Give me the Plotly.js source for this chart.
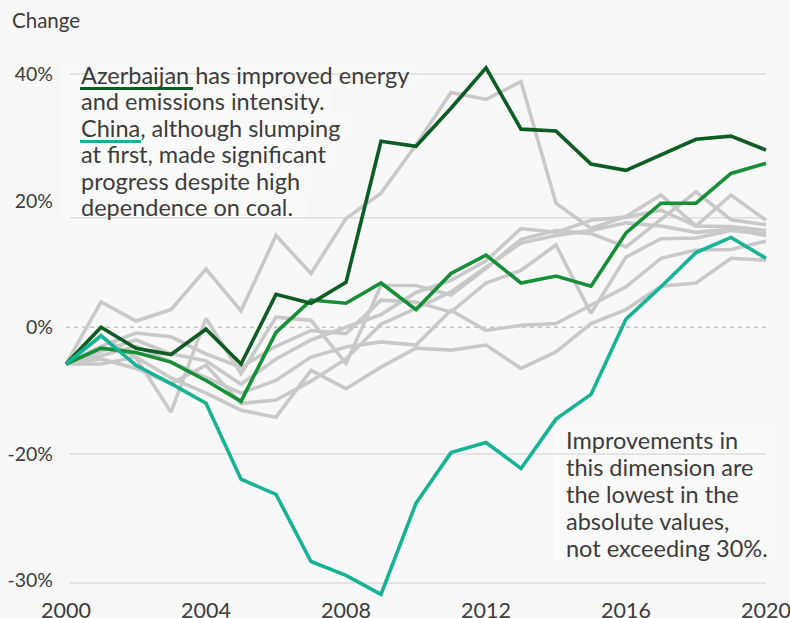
<!DOCTYPE html>
<html><head><meta charset="utf-8">
<script src="https://cdn.plot.ly/plotly-3.0.1.min.js"></script>
<style>html,body{margin:0;padding:0;background:#f8f8f8}</style>
</head><body><div id="chart" style="width:790px;height:618px"></div>
<script>
// ---- data ----
const years = [2000,2001,2002,2003,2004,2005,2006,2007,2008,2009,2010,2011,2012,2013,2014,2015,2016,2017,2018,2019,2020];
const azerbaijan = [-5.8, 0.0, -3.3, -4.3, -0.3, -5.8, 5.2, 3.8, 7.1, 29.4, 28.6, 34.6, 41.0, 31.3, 31.0, 25.8, 24.8, 27.3, 29.7, 30.2, 28.0];
const greenCountry = [-5.8, -3.3, -4.0, -5.5, -8.4, -11.7, -0.8, 4.3, 3.8, 7.0, 2.8, 8.5, 11.4, 7.0, 8.1, 6.5, 14.9, 19.6, 19.6, 24.3, 25.9];
const china = [-5.8, -1.3, -6.0, -8.9, -12.0, -24.0, -26.4, -37.0, -39.2, -42.2, -27.8, -19.8, -18.2, -22.3, -14.5, -10.6, 1.3, 6.4, 11.8, 14.2, 10.9];
const grey1 = [-5.8, 4.0, 1.0, 2.8, 9.2, 2.6, 14.5, 8.5, 17.2, 21.2, 28.8, 37.1, 36.0, 38.8, 19.6, 15.6, 17.5, 20.9, 16.0, 20.9, 16.9];
const grey2 = [-5.8, -1.5, -4.8, -13.4, 1.4, -7.3, 1.6, 1.1, -5.7, 6.6, 6.6, 5.1, 9.3, 13.9, 15.3, 14.8, 12.7, 17.0, 21.4, 17.0, 16.2];
const grey3 = [-5.8, -3.0, -0.9, -1.5, -4.2, -6.3, -3.0, -0.5, -1.0, 4.3, 4.0, 2.4, 7.0, 9.0, 13.0, 2.2, 11.1, 14.0, 14.1, 15.3, 14.8];
const grey4 = [-5.8, -3.8, -2.0, -4.2, -5.3, -9.0, -5.0, -2.0, 0.0, 2.0, 5.5, 7.4, 10.5, 15.6, 15.0, 16.9, 17.4, 18.5, 16.0, 15.9, 15.3];
const grey5 = [-5.8, -4.5, -3.0, -5.5, -8.0, -10.4, -8.4, -4.7, -3.1, -2.3, -2.8, 2.7, -0.5, 0.3, 0.6, 3.5, 6.4, 10.9, 12.2, 12.3, 13.6];
const grey6 = [-5.8, -5.0, -6.5, -8.9, -6.0, -12.0, -11.5, -8.5, -5.0, 0.5, 3.0, 5.6, 9.5, 13.3, 14.5, 15.3, 16.5, 16.0, 15.0, 15.5, 14.5];
const grey7 = [-5.8, -5.8, -4.7, -8.0, -10.4, -13.1, -14.2, -6.8, -9.7, -6.3, -3.3, -3.6, -2.8, -6.5, -3.9, 0.6, 2.8, 6.5, 7.0, 10.9, 10.6];
const greySeries = [grey1, grey2, grey3, grey4, grey5, grey6, grey7];

const xTickVals = [2000, 2004, 2008, 2012, 2016, 2020];
const xTickText = ['2000', '2004', '2008', '2012', '2016', '2020'];
const yTickVals = [40, 20, 0, -20, -40];
const yTickText = ['40%', '20%', '0%', '-20%', '-30%'];
const yAxisLabel = 'Change';
const noteTop = ['Azerbaijan has improved energy', 'and emissions intensity.', 'China, although slumping', 'at first, made significant', 'progress despite high', 'dependence on coal.'];
const noteBottom = ['Improvements in', 'this dimension are', 'the lowest in the', 'absolute values,', 'not exceeding 30%.'];

// ---- style ----
const FONT = 'Lato, "Open Sans", sans-serif';
const BG = '#f8f8f8';
const BOX = '#fafafa';
const TXT = '#3c3c3c';
const GREY = '#c9c9c9';
const C_AZ = '#0d5c24';
const C_GR = '#178f38';
const C_CN = '#17b394';
const W = 790, H = 618, ML = 60, MR = 15, MT = 40, MB = 18;
const PW = W - ML - MR, PH = H - MT - MB;
const px = x => (x - ML) / PW;
const py = y => 1 - (y - MT) / PH;

const traces = [];
greySeries.forEach(s => traces.push({x: years, y: s, type: 'scatter', mode: 'lines',
  line: {color: GREY, width: 3.6}, hoverinfo: 'skip', showlegend: false}));
traces.push({x: years, y: greenCountry, type: 'scatter', mode: 'lines', line: {color: C_GR, width: 3.6}, showlegend: false});
traces.push({x: years, y: azerbaijan, type: 'scatter', mode: 'lines', line: {color: C_AZ, width: 3.6}, showlegend: false});
traces.push({x: years, y: china, type: 'scatter', mode: 'lines', line: {color: C_CN, width: 3.6}, showlegend: false});

const shapes = [];
// grid lines
[40, 17.3, -20, -40.4].forEach(v => shapes.push({type: 'line', xref: 'x', yref: 'y', x0: 2000.11, x1: 2020, y0: v, y1: v,
  line: {color: '#dcdcdc', width: 1.5}, layer: 'below'}));
shapes.push({type: 'line', xref: 'x', yref: 'y', x0: 2000, x1: 2020, y0: 0, y1: 0,
  line: {color: '#c4c4c4', width: 1.5, dash: '4px,4px'}, layer: 'below'});
// note backgrounds
const topRight = [418, 332, 350, 338, 312, 307];
topRight.forEach((r, i) => shapes.push({type: 'rect', xref: 'paper', yref: 'paper',
  x0: px(60), x1: px(r), y0: py(60 + 26.8 * i), y1: py(60 + 26.8 * (i + 1)),
  fillcolor: BOX, line: {width: 0}, layer: 'below'}));
shapes.push({type: 'rect', xref: 'paper', yref: 'paper', x0: px(555), x1: px(775), y0: py(426), y1: py(562),
  fillcolor: BOX, line: {width: 0}, layer: 'below'});
// underlines
shapes.push({type: 'line', xref: 'paper', yref: 'paper', x0: px(80), x1: px(193), y0: py(88.5), y1: py(88.5), line: {color: C_AZ, width: 3}});
shapes.push({type: 'line', xref: 'paper', yref: 'paper', x0: px(80), x1: px(141), y0: py(141.5), y1: py(141.5), line: {color: C_CN, width: 3}});

const annotations = [];
noteTop.forEach((t, i) => annotations.push({xref: 'paper', yref: 'paper', x: px(80), y: py(75 + 26.4 * i),
  xanchor: 'left', yanchor: 'middle', text: t, showarrow: false, borderpad: 0, align: 'left',
  font: {family: FONT, size: 23.5, color: TXT}}));
noteBottom.forEach((t, i) => annotations.push({xref: 'paper', yref: 'paper', x: px(565), y: py(440 + 26.9 * i),
  xanchor: 'left', yanchor: 'middle', text: t, showarrow: false, borderpad: 0, align: 'left',
  font: {family: FONT, size: 23.5, color: TXT}}));
annotations.push({xref: 'paper', yref: 'paper', x: px(10), y: py(20), xanchor: 'left', yanchor: 'middle',
  text: yAxisLabel, showarrow: false, font: {family: FONT, size: 20.5, color: TXT}});

const layout = {
  width: W, height: H, margin: {l: ML, r: MR, t: MT, b: MB, pad: 0},
  paper_bgcolor: BG, plot_bgcolor: BG, showlegend: false,
  font: {family: FONT, color: TXT},
  xaxis: {range: [2000 - 6 / 35, 2020 + 9 / 35], tickvals: xTickVals, ticktext: xTickText, showgrid: false,
    zeroline: false, showline: false, ticks: '', ticklabeloverflow: 'allow', ticklabelstandoff: -5,
    tickfont: {family: FONT, size: 21.5, color: TXT}, fixedrange: true},
  yaxis: {range: [(327.3 - 600) / 6.33, (327.3 - 40) / 6.33], tickvals: yTickVals, ticktext: yTickText, showgrid: false,
    zeroline: false, showline: false, ticks: '', ticklabelstandoff: 6,
    tickfont: {family: FONT, size: 19.5, color: TXT}, fixedrange: true},
  shapes: shapes, annotations: annotations
};
Plotly.newPlot('chart', traces, layout, {displayModeBar: false, staticPlot: true});
</script></body></html>
